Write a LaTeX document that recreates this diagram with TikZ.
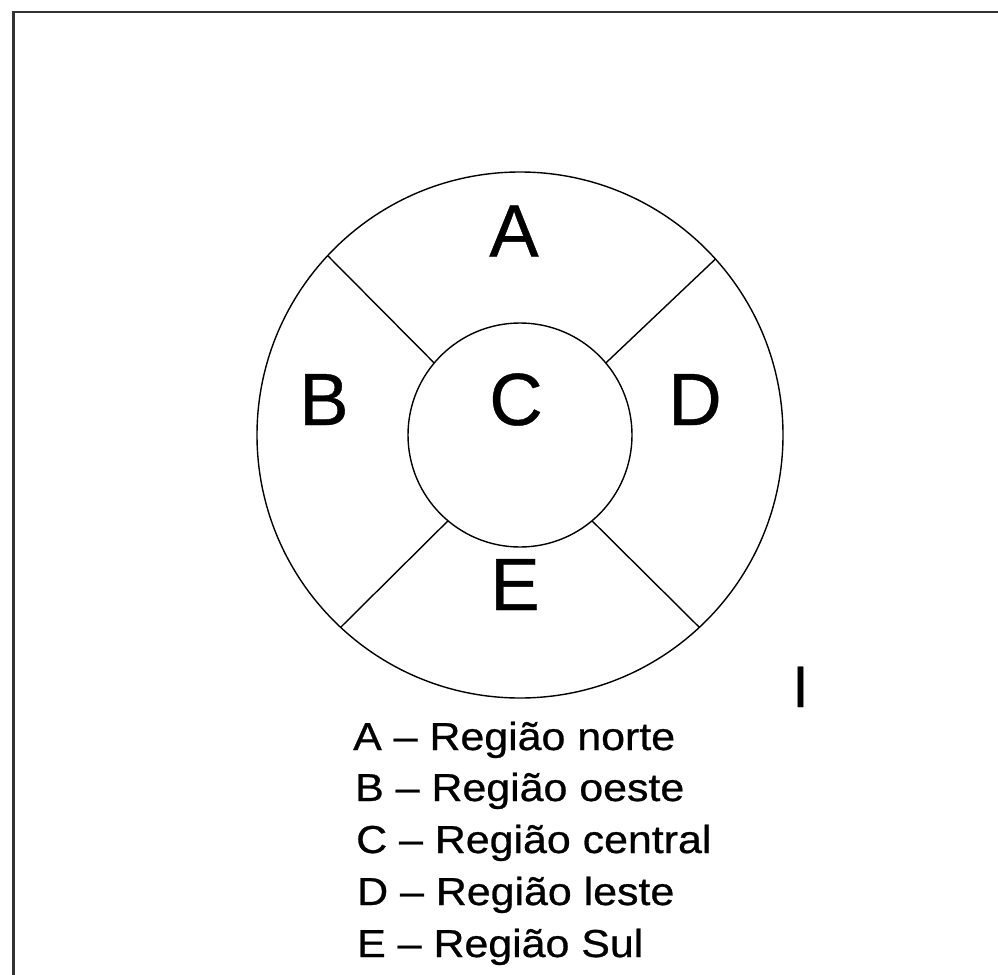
\documentclass[tikz,border=0pt]{standalone}
\usepackage{fontspec}
\setmainfont{Liberation Sans}
\newfontfamily\keyfont{Liberation Sans}[FakeStretch=1.1,FakeBold=0.7]
\newfontfamily\regionfont{Liberation Sans}[FakeBold=0.5]
\begin{document}
\begin{tikzpicture}[x=1pt,y=-1pt,ring/.style={circle,draw,line width=1.4pt,inner sep=0pt,outer sep=0pt},spoke/.style={line width=1.4pt},region/.style={anchor=base,inner sep=0pt,font=\regionfont\fontsize{74}{80}\selectfont},key/.style={anchor=base west,inner sep=0pt,font=\keyfont\fontsize{39}{44}\selectfont}]
\useasboundingbox (0,0) rectangle (998,974);
\draw[line width=2.8pt,black!80] (13.5,990) -- (13.5,12) -- (1010,12);
\coordinate (ctr) at (520,435);
\node[ring,minimum size=526pt] (outer) at (ctr) {};
\node[ring,minimum size=224pt] (inner) at (ctr) {};
\draw[spoke] (outer.137.5) -- (inner.140);
\draw[spoke] (outer.42.5) -- (inner.40);
\draw[spoke] (outer.227.5) -- (inner.230);
\draw[spoke] (outer.-47.5) -- (inner.-50.5);
\node[region] (lblA) at (514,256.5) {A};
\node[region] (lblB) at (324,425) {B};
\node[region] (lblC) at (516,425) {C};
\node[region] (lblD) at (695,425) {D};
\node[region] (lblE) at (515,610) {E};
\node[anchor=base,inner sep=0pt,font=\regionfont\fontsize{58.6}{64}\selectfont] (cursor) at (800.5,707) {I};
\node[key] (keyA) at (353,750) {A – Região norte};
\node[key] (keyB) at (355,801) {B – Região oeste};
\node[key] (keyC) at (356,853) {C – Região central};
\node[key] (keyD) at (357,905) {D – Região leste};
\node[key] (keyE) at (357,957) {E – Região Sul};
\end{tikzpicture}
\end{document}
